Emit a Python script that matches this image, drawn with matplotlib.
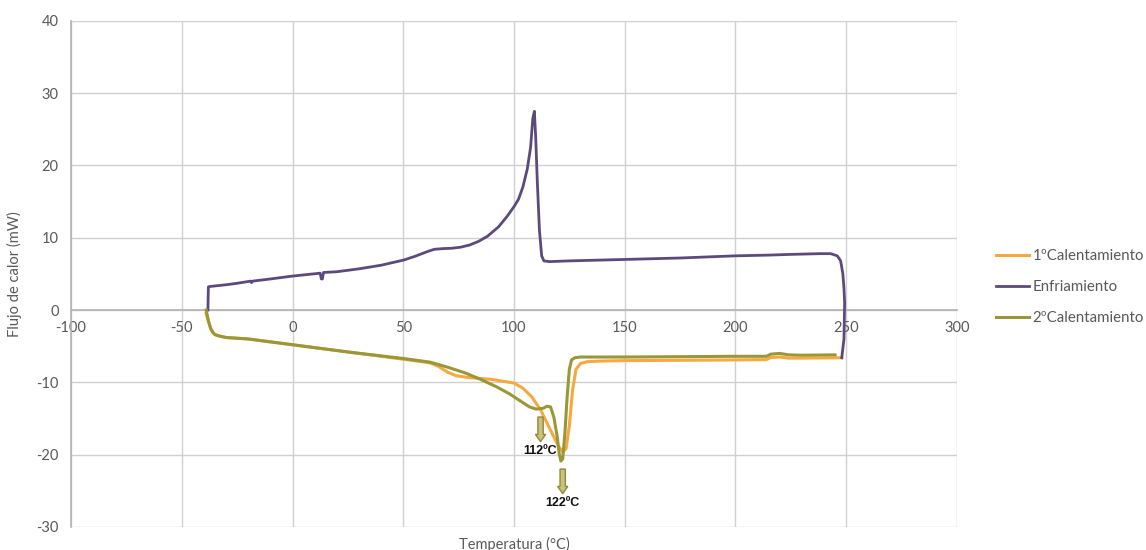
import matplotlib
matplotlib.use("Agg")
import matplotlib.pyplot as plt
from matplotlib.patches import FancyArrow

plt.rcParams['font.family'] = ['Lato', 'DejaVu Sans']
plt.rcParams['axes.unicode_minus'] = False

# ---- data ----
cool_T = [248, 249, 249.3, 249, 248.5, 247.5, 246, 243, 238, 225, 215, 200, 175, 150, 125, 116, 113.5, 112.5,
          111.5, 110.5, 109.8, 109.2, 108.5, 107.5, 106, 104, 102, 100, 97, 93, 88, 84, 80, 76, 72, 68, 64, 61,
          55, 50, 40, 30, 20, 14, 13.5, 13, 12.5, 0, -10, -18, -18.5, -19, -25, -30, -36, -37.5, -38, -38.2]
cool_Q = [-6.6, -4, 1.0, 3, 5, 6.8, 7.5, 7.8, 7.8, 7.7, 7.6, 7.5, 7.2, 7.0, 6.8, 6.7, 6.8, 7.5,
          11, 18, 24, 27.5, 26.5, 22.5, 19.5, 17, 15.3, 14.3, 13.0, 11.5, 10.2, 9.5, 9.0, 8.7, 8.55, 8.5, 8.4, 8.1,
          7.4, 6.9, 6.2, 5.7, 5.3, 5.2, 4.3, 4.3, 5.1, 4.7, 4.3, 4.0, 3.8, 4.0, 3.7, 3.5, 3.3, 3.25, 3.2, 0.0]

h1_T = [-39, -38, -37, -36, -35, -33, -30, -20, -10, 0, 25, 50, 62, 66, 70, 74, 80, 90, 100, 104, 108, 112,
        116, 120, 122, 123.5, 125, 126.5, 128, 130, 133, 140, 150, 175, 200, 214, 216, 220, 224, 230, 248]
h1_Q = [-0.5, -1.5, -2.5, -3.1, -3.4, -3.6, -3.8, -4.0, -4.4, -4.8, -5.8, -6.8, -7.3, -7.8, -8.6, -9.1, -9.35, -9.6, -10.1, -10.8, -12.0, -13.8,
        -16.3, -18.8, -19.6, -19.2, -16, -11, -8.2, -7.4, -7.15, -7.05, -7.0, -6.95, -6.9, -6.85, -6.55, -6.5, -6.65, -6.65, -6.6]

h2_T = [-39, -38, -37, -36, -35, -33, -30, -20, -10, 0, 25, 50, 62, 70, 78, 85, 92, 98, 103, 107, 110, 113,
        115, 116.5, 118, 119.5, 120.5, 121.2, 122, 123, 124, 125, 126, 127.5, 130, 150, 175, 200, 214, 216, 220, 224, 230, 245]
h2_Q = [0.0, -1.5, -2.5, -3.1, -3.4, -3.6, -3.8, -4.0, -4.4, -4.8, -5.8, -6.7, -7.2, -7.9, -8.7, -9.6, -10.6, -11.6, -12.6, -13.4, -13.7, -13.6,
        -13.3, -13.4, -14.8, -17.5, -20.0, -20.9, -20.6, -17.0, -12.0, -8.2, -6.9, -6.6, -6.5, -6.5, -6.45, -6.4, -6.4, -6.1, -6.0, -6.2, -6.25, -6.2]

series_names = ['1ºCalentamiento', 'Enfriamiento', '2ºCalentamiento']
peak_T = [112, 122]
peak_labels = ['112ºC', '122ºC']
arrow_top = [-14.8, -22.0]

x_ticks = [-100, -50, 0, 50, 100, 150, 200, 250, 300]
y_ticks = [-30, -20, -10, 0, 10, 20, 30, 40]

# ---- figure ----
fig = plt.figure(figsize=(11.46, 5.5), dpi=100)
ax = fig.add_axes([0.062, 0.042, 0.773, 0.92])

c_orange = '#f7a83e'
c_purple = '#5c4a7d'
c_olive = '#999737'

ax.plot(h1_T, h1_Q, color=c_orange, lw=2.2, label=series_names[0], zorder=3)
ax.plot(cool_T, cool_Q, color=c_purple, lw=2.0, label=series_names[1], zorder=4)
ax.plot(h2_T, h2_Q, color=c_olive, lw=2.2, label=series_names[2], zorder=5)

ax.set_xlim(-100, 300)
ax.set_ylim(-30, 40)
ax.set_xticks(x_ticks)
ax.set_yticks(y_ticks)
ax.grid(True, color='#d0d0d0', lw=1.0)
ax.set_axisbelow(True)

for s in ['top', 'right']:
    ax.spines[s].set_visible(False)
ax.spines['bottom'].set_position(('data', 0))
ax.spines['bottom'].set_color('#b4b4b4')
ax.spines['left'].set_color('#b4b4b4')
ax.spines['bottom'].set_linewidth(1.2)
ax.spines['left'].set_linewidth(1.2)
ax.tick_params(length=0, colors='#595959', labelsize=10.5)
ax.tick_params(axis='x', pad=8)
ax.tick_params(axis='y', pad=9)

ax.set_ylabel('Flujo de calor (mW)', color='#595959', fontsize=10.5, labelpad=10)
ax.text(0.5, -0.035, 'Temperatura (°C)', transform=ax.transAxes, ha='center', va='center',
        color='#595959', fontsize=10.5)

# annotations: block arrows + labels
for T, top, lab in zip(peak_T, arrow_top, peak_labels):
    arr = FancyArrow(T, top, 0, -3.4, width=2.4, head_width=4.6, head_length=1.0,
                     length_includes_head=True, facecolor='#c9c27a', edgecolor='#8f8a3a', lw=1.0, zorder=6)
    ax.add_patch(arr)
    ax.text(T, top - 4.7, lab, ha='center', va='center', fontsize=9, fontweight='bold',
            family=['Liberation Sans', 'DejaVu Sans'], color='#111111', zorder=7)

leg = fig.legend(loc='center left', bbox_to_anchor=(0.869, 0.478), frameon=False, fontsize=10.8,
                 handlelength=2.2, handletextpad=0.25, labelspacing=1.15, borderaxespad=0, borderpad=0)
for t in leg.get_texts():
    t.set_color('#595959')

fig.savefig('out.png', dpi=100)
